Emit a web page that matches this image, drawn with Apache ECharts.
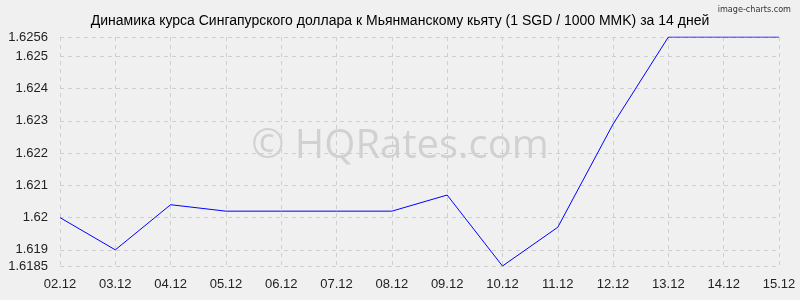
<!DOCTYPE html>
<html><head><meta charset="utf-8">
<script src="https://cdn.jsdelivr.net/npm/echarts@6/dist/echarts.min.js"></script>
<style>html,body{margin:0;padding:0;background:#f0f0f0}#c{width:800px;height:300px}</style>
</head><body><div id="c"></div>
<script>
const titleText = 'Динамика курса Сингапурского доллара к Мьянманскому кьяту (1 SGD / 1000 MMK) за 14 дней';
const categories = ['02.12','03.12','04.12','05.12','06.12','07.12','08.12','09.12','10.12','11.12','12.12','13.12','14.12','15.12'];
const rates = [1.6200,1.6190,1.6204,1.6202,1.6202,1.6202,1.6202,1.6207,1.6185,1.6197,1.6229,1.6256,1.6256,1.6256];
const yTicks = [1.6185,1.619,1.62,1.621,1.622,1.623,1.624,1.625,1.6256];
const chart = echarts.init(document.getElementById('c'), null, {renderer:'canvas'});
chart.setOption({
  backgroundColor:'#f0f0f0',
  animation:false,
  title:[{text:titleText,left:'center',top:9,textStyle:{fontFamily:'Liberation Sans',fontSize:14,fontWeight:'normal',color:'#000'}},
         {text:'image-charts.com',right:4,top:0,textStyle:{fontFamily:'DejaVu Sans Condensed',fontSize:9,fontWeight:'normal',color:'#333'}}],
  graphic:[{type:'text',left:'center',top:127,style:{text:'© HQRates.com',font:'40px "Open Sans", sans-serif',fill:'rgba(0,0,0,0.13)'}}],
  grid:{left:60,right:21,top:37,bottom:34},
  xAxis:{type:'category',data:categories,boundaryGap:false,
    axisLine:{show:false},axisTick:{show:false},
    axisLabel:{fontFamily:'Liberation Sans',fontSize:13,color:'#222',margin:12},
    splitLine:{show:true,lineStyle:{color:'#cfcfcf',type:[4,4]}}},
  yAxis:{type:'value',min:1.6185,max:1.6256,
    axisLine:{show:false},
    axisTick:{show:false,customValues:yTicks},
    axisLabel:{customValues:yTicks,fontFamily:'Liberation Sans',fontSize:13,color:'#222',margin:12,formatter:v=>String(v)},
    splitLine:{show:true,lineStyle:{color:'#cfcfcf',type:[4,4]}}},
  series:[{type:'line',data:rates,symbol:'none',lineStyle:{color:'#0000ff',width:1}}]
});
</script></body></html>
